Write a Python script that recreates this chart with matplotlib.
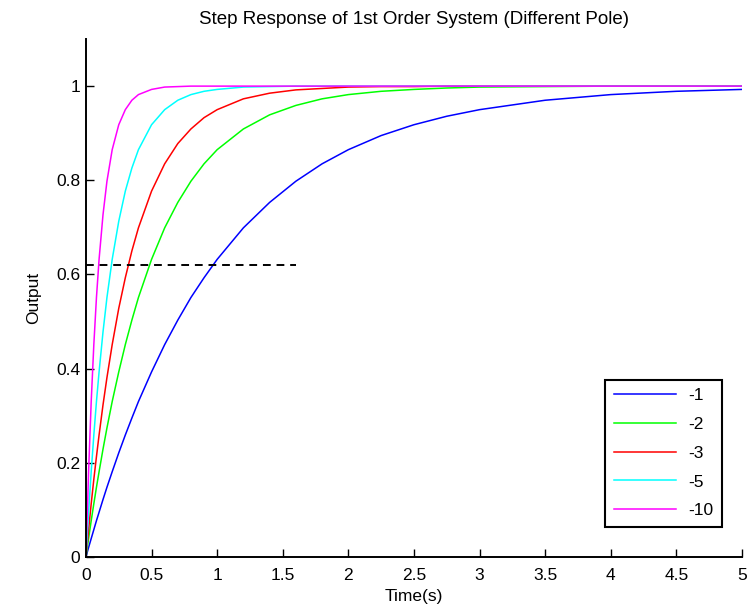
import matplotlib
matplotlib.use('Agg')
import matplotlib.pyplot as plt

plt.rcParams['font.family'] = ['Liberation Sans', 'DejaVu Sans']

# time samples (s)
t = [0, 0.02, 0.04, 0.06, 0.08, 0.1, 0.13, 0.16, 0.2, 0.25, 0.3, 0.35, 0.4, 0.5,
     0.6, 0.7, 0.8, 0.9, 1.0, 1.2, 1.4, 1.6, 1.8, 2.0, 2.25, 2.5, 2.75, 3.0,
     3.5, 4.0, 4.5, 5.0]

# output for each pole
y_p1 = [0, 0.020, 0.039, 0.058, 0.077, 0.095, 0.122, 0.148, 0.181, 0.221, 0.259,
        0.295, 0.330, 0.393, 0.451, 0.503, 0.551, 0.593, 0.632, 0.699, 0.753,
        0.798, 0.835, 0.865, 0.895, 0.918, 0.936, 0.950, 0.970, 0.982, 0.989, 0.993]
y_p2 = [0, 0.039, 0.077, 0.113, 0.148, 0.181, 0.229, 0.274, 0.330, 0.393, 0.451,
        0.503, 0.551, 0.632, 0.699, 0.753, 0.798, 0.835, 0.865, 0.909, 0.939,
        0.959, 0.973, 0.982, 0.989, 0.993, 0.996, 0.998, 0.999, 1.0, 1.0, 1.0]
y_p3 = [0, 0.058, 0.113, 0.165, 0.213, 0.259, 0.323, 0.381, 0.451, 0.528, 0.593,
        0.650, 0.699, 0.777, 0.835, 0.878, 0.909, 0.933, 0.950, 0.973, 0.985,
        0.992, 0.995, 0.998, 0.999, 0.999, 1.0, 1.0, 1.0, 1.0, 1.0, 1.0]
y_p5 = [0, 0.095, 0.181, 0.259, 0.330, 0.393, 0.478, 0.551, 0.632, 0.713, 0.777,
        0.826, 0.865, 0.918, 0.950, 0.970, 0.982, 0.989, 0.993, 0.998, 0.999,
        1.0, 1.0, 1.0, 1.0, 1.0, 1.0, 1.0, 1.0, 1.0, 1.0, 1.0]
y_p10 = [0, 0.181, 0.330, 0.451, 0.551, 0.632, 0.727, 0.798, 0.865, 0.918, 0.950,
         0.970, 0.982, 0.993, 0.998, 0.999, 1.0, 1.0, 1.0, 1.0, 1.0,
         1.0, 1.0, 1.0, 1.0, 1.0, 1.0, 1.0, 1.0, 1.0, 1.0, 1.0]

labels = ['-1', '-2', '-3', '-5', '-10']
colors = ['#0000ff', '#00ff00', '#ff0000', '#00ffff', '#ff00ff']

# dashed reference line
ref_y = 0.62
ref_x = [0, 1.6]

fig = plt.figure(figsize=(7.54, 6.1), dpi=100)
ax = fig.add_axes([0.114, 0.087, 0.87, 0.849])

for ys, lab, c in zip([y_p1, y_p2, y_p3, y_p5, y_p10], labels, colors):
    ax.plot(t, ys, color=c, lw=1.1, label=lab)

ax.plot(ref_x, [ref_y, ref_y], color='black', ls=(0, (4, 3)), lw=1.4)

ax.set_xlim(0, 5)
ax.set_ylim(0, 1.1)
ax.set_xticks([0, 0.5, 1, 1.5, 2, 2.5, 3, 3.5, 4, 4.5, 5])
ax.set_xticklabels(['0', '0.5', '1', '1.5', '2', '2.5', '3', '3.5', '4', '4.5', '5'])
ax.set_yticks([0, 0.2, 0.4, 0.6, 0.8, 1])
ax.set_yticklabels(['0', '0.2', '0.4', '0.6', '0.8', '1'])
ax.spines['top'].set_visible(False)
ax.spines['right'].set_visible(False)
ax.spines['left'].set_linewidth(1.4)
ax.spines['bottom'].set_linewidth(1.4)
ax.tick_params(direction='in', length=5.5, width=1, labelsize=12.5)
ax.tick_params(axis='x', pad=8)
ax.tick_params(axis='y', pad=4)

ax.set_xlabel('Time(s)', fontsize=12.5, labelpad=4)
ax.set_ylabel('Output', fontsize=12.5, labelpad=11)
ax.set_title('Step Response of 1st Order System (Different Pole)', fontsize=13.5, pad=11)

leg = ax.legend(loc='lower right', bbox_to_anchor=(0.970, 0.058), fontsize=12.5,
                fancybox=False, framealpha=1, edgecolor='black',
                handlelength=3.6, handletextpad=0.7, labelspacing=0.78,
                borderpad=0.5, borderaxespad=0)
leg.get_frame().set_linewidth(1.5)

fig.savefig('out.png', dpi=100, facecolor='white')
